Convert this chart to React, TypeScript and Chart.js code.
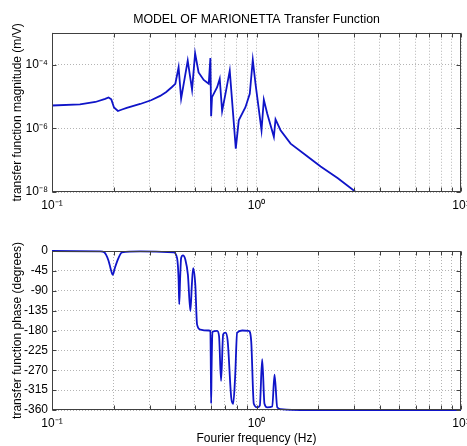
import React, { useEffect, useRef } from 'react';
import { Chart, registerables } from 'chart.js';

Chart.register(...registerables);

const TITLE = 'MODEL OF MARIONETTA Transfer Function';
const MAG_Y_TITLE = 'transfer function magnitude (m/V)';
const PHASE_Y_TITLE = 'transfer function phase (degrees)';
const X_TITLE = 'Fourier frequency (Hz)';

// Magnitude (m/V) vs frequency (Hz)
const magFreq = [
  0.1, 0.137, 0.163, 0.182, 0.189, 0.195, 0.201, 0.21, 0.22, 0.232, 0.27, 0.305,
  0.338, 0.362, 0.385, 0.401, 0.416, 0.428, 0.461, 0.484, 0.501, 0.521, 0.552, 0.584,
  0.595, 0.6, 0.606, 0.642, 0.661, 0.679, 0.705, 0.74, 0.792, 0.819, 0.883, 0.927,
  0.959, 0.989, 1.058, 1.086, 1.128, 1.216, 1.239, 1.311, 1.468, 1.75, 2.059, 2.5,
  3.057, 10,
];
const magValue = [
  5.2e-6, 5.6e-6, 6.7e-6, 8.4e-6, 9.3e-6, 8.1e-6, 4.5e-6, 3.5e-6, 3.9e-6, 4.4e-6, 5.8e-6, 7.6e-6,
  1.04e-5, 1.38e-5, 1.95e-5, 2.5e-5, 8.2e-5, 8.5e-6, 1.33e-4, 1.62e-5, 2.25e-4, 5.7e-5, 3.3e-5, 2.5e-5,
  1.62e-4, 2.4e-6, 9.5e-6, 1.95e-5, 3.6e-5, 3.5e-6, 1.21e-5, 6.5e-5, 2.3e-7, 1.78e-6, 4.6e-6, 1.21e-5,
  1.4e-4, 2.5e-5, 8.7e-7, 7.9e-6, 2.9e-6, 5.4e-7, 1.9e-6, 8.7e-7, 3.3e-7, 1.4e-7, 6.3e-8, 2.7e-8,
  1.0e-8, 4.2e-11,
];

// Phase (degrees) vs frequency (Hz)
const phaseFreq = [
  0.1, 0.172, 0.18, 0.189, 0.1935, 0.198, 0.2025, 0.208, 0.22, 0.27, 0.393, 0.409,
  0.416, 0.419, 0.423, 0.428, 0.437, 0.449, 0.462, 0.475, 0.483, 0.49, 0.502, 0.512,
  0.532, 0.584, 0.595, 0.598, 0.6, 0.603, 0.609, 0.642, 0.656, 0.671, 0.687, 0.705,
  0.723, 0.752, 0.769, 0.786, 0.804, 0.851, 0.917, 0.942, 0.97, 1.008, 1.038, 1.066,
  1.094, 1.128, 1.194, 1.225, 1.263, 1.311, 1.644, 10,
];
const phaseValue = [
  0, -1, -3, -22, -40, -54, -40, -24, -3, -1, -3, -16,
  -65, -121, -65, -16, -10, -20, -54, -136, -76, -39, -76, -166,
  -178, -180, -181, -268, -345, -268, -183, -181, -193, -294, -189, -185,
  -204, -331, -346, -286, -185, -180, -181, -204, -346, -354, -350, -245,
  -346, -354, -352, -280, -354, -358, -360, -360,
];

const freqTicks = [0.1, 0.2, 0.3, 0.4, 0.5, 0.6, 0.7, 0.8, 0.9, 1, 2, 3, 4, 5, 6, 7, 8, 9, 10];
const freqTickLabels = ['10⁻¹', '', '', '', '', '', '', '', '', '10⁰', '', '', '', '', '', '', '', '', '10¹'];
const magTicks = [1e-8, 1e-6, 1e-4];
const magTickLabels = ['10⁻⁸', '10⁻⁶', '10⁻⁴'];
const phaseTicks = [-360, -315, -270, -225, -180, -135, -90, -45, 0];

const FONT = "'Liberation Sans', Arial, sans-serif";
const LINE_COLOR = '#0f14c8';
const GRID_COLOR = '#b4b4b4';
const TEXT_COLOR = '#000000';

const boxPlugin = {
  id: 'matlabBox',
  afterDraw(chart: any) {
    const { ctx, chartArea } = chart;
    const { left, right, top, bottom } = chartArea;
    ctx.save();
    ctx.strokeStyle = '#404040';
    ctx.lineWidth = 1;
    ctx.setLineDash([]);
    const L = Math.round(left) + 0.5;
    const R = Math.round(right) - 0.5;
    const T = Math.round(top) + 0.5;
    const B = Math.round(bottom) - 0.5;
    ctx.strokeRect(L, T, R - L, B - T);
    const xs = chart.scales.x;
    const ys = chart.scales.y;
    ctx.beginPath();
    xs.ticks.forEach((t: any) => {
      const px = Math.round(xs.getPixelForValue(t.value)) + 0.5;
      ctx.moveTo(px, B);
      ctx.lineTo(px, B - 4);
      ctx.moveTo(px, T);
      ctx.lineTo(px, T + 4);
    });
    ys.ticks.forEach((t: any) => {
      const py = Math.round(ys.getPixelForValue(t.value)) + 0.5;
      ctx.moveTo(L, py);
      ctx.lineTo(L + 4, py);
      ctx.moveTo(R, py);
      ctx.lineTo(R - 4, py);
    });
    ctx.stroke();
    ctx.restore();
  },
};

function xScale(height: number, showTitle: boolean) {
  return {
    type: 'logarithmic',
    min: 0.1,
    max: 10,
    afterBuildTicks: (s: any) => {
      s.ticks = freqTicks.map((v) => ({ value: v }));
    },
    afterFit: (s: any) => {
      s.height = height;
      s.paddingLeft = 0;
      s.paddingRight = 0;
    },
    ticks: {
      autoSkip: false,
      maxRotation: 0,
      minRotation: 0,
      padding: 6,
      color: TEXT_COLOR,
      font: { family: FONT, size: 12 },
      callback: (_v: any, i: number) => freqTickLabels[i],
    },
    grid: { color: GRID_COLOR, lineWidth: 1, drawTicks: false },
    border: { display: false, dash: [1, 2] },
    title: {
      display: showTitle,
      text: X_TITLE,
      color: TEXT_COLOR,
      font: { family: FONT, size: 12 },
      padding: { top: 0, bottom: 0 },
    },
  };
}

function yTitle(text: string) {
  return {
    display: true,
    text,
    color: TEXT_COLOR,
    font: { family: FONT, size: 12 },
    padding: { top: 10, bottom: 0 },
  };
}

function yFit(s: any) {
  s.width = 52;
  s.paddingTop = 0;
  s.paddingBottom = 0;
}

export default function App() {
  const magRef = useRef<HTMLCanvasElement>(null);
  const phaseRef = useRef<HTMLCanvasElement>(null);

  useEffect(() => {
    const magChart = new Chart(magRef.current as HTMLCanvasElement, {
      type: 'line',
      data: {
        datasets: [
          {
            data: magFreq.map((f, i) => ({ x: f, y: magValue[i] })),
            borderColor: LINE_COLOR,
            borderWidth: 1.8,
            pointRadius: 0,
            tension: 0,
            fill: false,
          },
        ],
      },
      options: {
        animation: false,
        responsive: false,
        devicePixelRatio: 1,
        layout: { padding: { left: 0, right: 6, top: 0, bottom: 0 } },
        plugins: {
          legend: { display: false },
          tooltip: { enabled: false },
          title: {
            display: true,
            text: TITLE,
            fullSize: false,
            color: TEXT_COLOR,
            font: { family: FONT, size: 12.3, weight: 'normal' },
            padding: { top: 12, bottom: 6 },
          },
        },
        scales: {
          x: xScale(31, false) as any,
          y: {
            type: 'logarithmic',
            min: 1e-8,
            max: 1e-3,
            afterBuildTicks: (s: any) => {
              s.ticks = magTicks.map((v) => ({ value: v }));
            },
            afterFit: yFit,
            ticks: {
              padding: 4,
              color: TEXT_COLOR,
              font: { family: FONT, size: 12 },
              callback: (_v: any, i: number) => magTickLabels[i],
            },
            grid: { color: GRID_COLOR, lineWidth: 1, drawTicks: false },
            border: { display: false, dash: [1, 2] },
            title: yTitle(MAG_Y_TITLE),
          } as any,
        },
      },
      plugins: [boxPlugin],
    } as any);

    const phaseChart = new Chart(phaseRef.current as HTMLCanvasElement, {
      type: 'line',
      data: {
        datasets: [
          {
            data: phaseFreq.map((f, i) => ({ x: f, y: phaseValue[i] })),
            borderColor: LINE_COLOR,
            borderWidth: 1.8,
            pointRadius: 0,
            cubicInterpolationMode: 'monotone',
            fill: false,
            clip: 3,
          },
        ],
      },
      options: {
        animation: false,
        responsive: false,
        devicePixelRatio: 1,
        layout: { padding: { left: 0, right: 6, top: 28, bottom: 0 } },
        plugins: {
          legend: { display: false },
          tooltip: { enabled: false },
          title: { display: false },
        },
        scales: {
          x: xScale(36, true) as any,
          y: {
            type: 'linear',
            min: -360,
            max: 0,
            afterBuildTicks: (s: any) => {
              s.ticks = phaseTicks.map((v) => ({ value: v }));
            },
            afterFit: yFit,
            ticks: {
              padding: 4,
              color: TEXT_COLOR,
              font: { family: FONT, size: 12 },
              callback: (v: any) => String(v),
            },
            grid: { color: GRID_COLOR, lineWidth: 1, drawTicks: false },
            border: { display: false, dash: [1, 2] },
            title: yTitle(PHASE_Y_TITLE),
          } as any,
        },
      },
      plugins: [boxPlugin],
    } as any);

    return () => {
      magChart.destroy();
      phaseChart.destroy();
    };
  }, []);

  return (
    <div style={{ position: 'absolute', left: 0, top: 0, width: 467, height: 446, background: '#fff' }}>
      <canvas ref={magRef} width={467} height={223} style={{ display: 'block' }} />
      <canvas ref={phaseRef} width={467} height={223} style={{ display: 'block' }} />
    </div>
  );
}
